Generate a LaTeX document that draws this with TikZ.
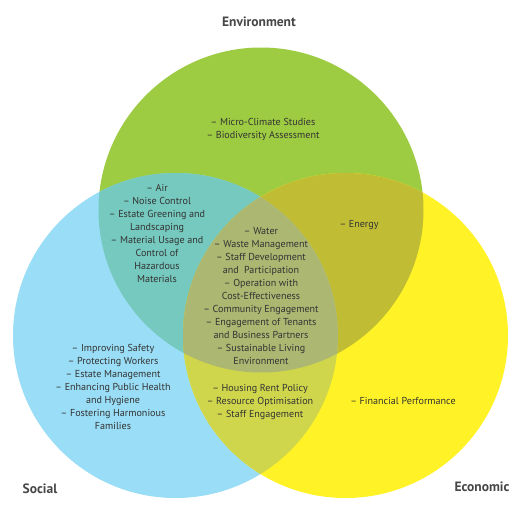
\documentclass[tikz,border=0pt]{standalone}
\usepackage{fontspec}
\setmainfont{PT Sans}
\begin{document}
\begin{tikzpicture}[x=1pt,y=-1pt,
  lbl/.style={align=center,text=black!80,font=\fontsize{10.1}{13}\selectfont,inner sep=0pt},
  ttl/.style={text=black!72,font=\fontsize{13.5}{15}\selectfont\bfseries,inner sep=0pt}]
\definecolor{cG}{HTML}{9DCB42}
\definecolor{cB}{HTML}{9ADDF6}
\definecolor{cY}{HTML}{FFF226}
\definecolor{cGB}{HTML}{76C9BE}
\definecolor{cGY}{HTML}{C0BD34}
\definecolor{cBY}{HTML}{CFD64C}
\definecolor{cGBY}{HTML}{ACB772}
\useasboundingbox (0,0) rectangle (525,514);
\fill[white] (0,0) rectangle (525,514);
\coordinate (G) at (261,210);
\coordinate (B) at (175.5,335.5);
\coordinate (Y) at (345.5,335.5);
\def\R{162.5}
\fill[cG] (G) circle (\R);
\fill[cB] (B) circle (\R);
\fill[cY] (Y) circle (\R);
\begin{scope}\clip (G) circle (\R); \fill[cGB] (B) circle (\R); \end{scope}
\begin{scope}\clip (G) circle (\R); \fill[cGY] (Y) circle (\R); \end{scope}
\begin{scope}\clip (B) circle (\R); \fill[cBY] (Y) circle (\R); \end{scope}
\begin{scope}\clip (G) circle (\R); \clip (B) circle (\R); \fill[cGBY] (Y) circle (\R); \end{scope}

\node[ttl] (tenv) at (259,22) {Environment};
\node[ttl] (tsoc) at (40,489) {Social};
\node[ttl] (teco) at (482,487) {Economic};

\node[lbl,anchor=north] (env) at (263,118) {– Micro-Climate Studies\\– Biodiversity Assessment};
\node[lbl,anchor=north] (gb) at (157,184) {– Air\\– Noise Control\\– Estate Greening and\\Landscaping\\– Material Usage and\\Control of\\Hazardous\\Materials};
\node[lbl,anchor=north] (gby) at (261,227.5) {– Water\\– Waste Management\\– Staff Development\\and~ Participation\\– Operation with\\Cost-Effectiveness\\– Community Engagement\\– Engagement of Tenants\\and Business Partners\\– Sustainable Living\\Environment};
\node[lbl,anchor=north] (gy) at (359,220.5) {– Energy};
\node[lbl,anchor=north] (soc) at (113,344.5) {– Improving Safety\\– Protecting Workers\\– Estate Management\\– Enhancing Public Health\\and Hygiene\\– Fostering Harmonious\\Families};
\node[lbl,anchor=north] (by) at (260,384.5) {– Housing Rent Policy\\– Resource Optimisation\\– Staff Engagement};
\node[lbl,anchor=north] (eco) at (403,397.5) {– Financial Performance};
\end{tikzpicture}
\end{document}
